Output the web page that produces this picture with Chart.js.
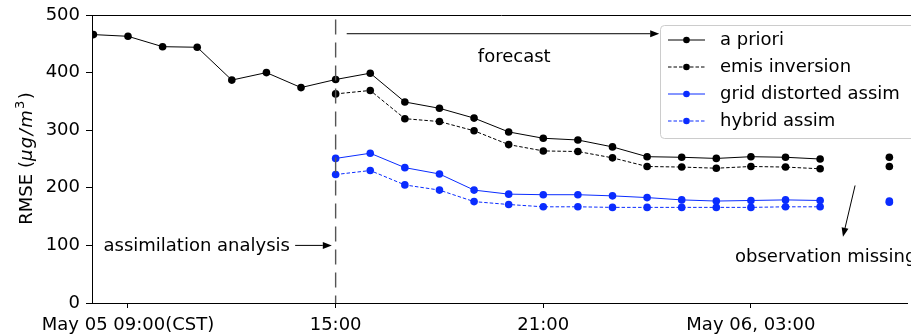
<!DOCTYPE html>
<html>
<head>
<meta charset="utf-8">
<script src="https://cdn.jsdelivr.net/npm/chart.js@4"></script>
<style>
  html, body { margin: 0; padding: 0; background: #fff; }
  #wrap { width: 911px; height: 335px; position: relative; }
</style>
</head>
<body>
<div id="wrap"><canvas id="c"></canvas></div>
<script>
// hours since May 05 08:00 (CST)
const hours = [0, 1, 2, 3, 4, 5, 6, 7, 8, 9, 10, 11, 12, 13, 14, 15, 16, 17, 18, 19, 20, 21, 22, 23];

const aPriori = [466, 463, 445, 444, 387, 400, 374, 388, 399, 349, 338, 321, 297, 286, 283, 271, 254, 253, 251, 254, 253, 250, null, 253];
const emisInversion = [null, null, null, null, null, null, null, 363, 369, 320, 315, 299, 275, 264, 263, 252, 237, 236, 234, 237, 236, 233, null, 237];
const gridAssim = [null, null, null, null, null, null, null, 251, 260, 235, 224, 196, 189, 188, 188, 186, 183, 179, 177, 178, 179, 178, null, 177];
const hybridAssim = [null, null, null, null, null, null, null, 223, 230, 205, 196, 176, 171, 167, 167, 166, 166, 166, 166, 166, 167, 167, null, 175];

const tickHours = [1, 7, 13, 19];
const tickLabels = ['May 05 09:00(CST)', '15:00', '21:00', 'May 06, 03:00'];

const FONT = 'DejaVu Sans';
const BLUE = '#0a2cff';

function toPoints(vals) {
    return hours.map((h, i) => ({ x: h, y: vals[i] }));
}

function series(label, vals, color, dashed) {
    return {
        label: label,
        data: toPoints(vals),
        borderColor: color,
        backgroundColor: color,
        borderWidth: 1,
        borderDash: dashed ? [3.5, 2] : [],
        pointRadius: 3.8,
        pointBorderWidth: 0,
        pointBackgroundColor: color,
        spanGaps: false,
        tension: 0
    };
}

function arrow(ctx, x1, y1, x2, y2) {
    const ang = Math.atan2(y2 - y1, x2 - x1);
    const len = 9, half = 3.5;
    ctx.beginPath();
    ctx.moveTo(x1, y1);
    ctx.lineTo(x2 - Math.cos(ang) * len, y2 - Math.sin(ang) * len);
    ctx.stroke();
    ctx.beginPath();
    ctx.moveTo(x2, y2);
    ctx.lineTo(x2 - Math.cos(ang) * len - Math.sin(ang) * half, y2 - Math.sin(ang) * len + Math.cos(ang) * half);
    ctx.lineTo(x2 - Math.cos(ang) * len + Math.sin(ang) * half, y2 - Math.sin(ang) * len - Math.cos(ang) * half);
    ctx.closePath();
    ctx.fill();
}

// frame, annotations, legend and y title drawn on top
const decorations = {
    id: 'decorations',
    afterDatasetsDraw(chart) {
        const ctx = chart.ctx;
        const xs = chart.scales.x, ys = chart.scales.y;
        const a = chart.chartArea;
        ctx.save();

        // top spine
        ctx.strokeStyle = '#000';
        ctx.lineWidth = 1;
        ctx.beginPath();
        ctx.moveTo(a.left, a.top + 0.5);
        ctx.lineTo(chart.width, a.top + 0.5);
        ctx.stroke();

        // analysis time marker
        ctx.strokeStyle = '#555';
        ctx.lineWidth = 1.4;
        ctx.setLineDash([15, 8]);
        ctx.beginPath();
        ctx.moveTo(xs.getPixelForValue(7), ys.getPixelForValue(492));
        ctx.lineTo(xs.getPixelForValue(7), ys.getPixelForValue(0));
        ctx.stroke();
        ctx.setLineDash([]);

        ctx.fillStyle = '#000';
        ctx.strokeStyle = '#000';
        ctx.lineWidth = 1;
        ctx.font = '18px "' + FONT + '"';
        ctx.textBaseline = 'middle';

        // forecast
        arrow(ctx, xs.getPixelForValue(7.32), ys.getPixelForValue(467.5), xs.getPixelForValue(16.35), ys.getPixelForValue(467.5));
        ctx.textAlign = 'center';
        ctx.fillText('forecast', xs.getPixelForValue(12.16), ys.getPixelForValue(427));

        // assimilation analysis
        ctx.textAlign = 'right';
        ctx.fillText('assimilation analysis', xs.getPixelForValue(5.68), ys.getPixelForValue(99));
        arrow(ctx, xs.getPixelForValue(5.83), ys.getPixelForValue(100), xs.getPixelForValue(6.89), ys.getPixelForValue(100));

        // observation missing
        ctx.textAlign = 'left';
        ctx.fillText('observation missing', xs.getPixelForValue(18.54), ys.getPixelForValue(80));
        arrow(ctx, xs.getPixelForValue(22.01), ys.getPixelForValue(204), xs.getPixelForValue(21.66), ys.getPixelForValue(115));

        // legend
        const lx = 660, ly = 25, lw = 270, lh = 113;
        ctx.fillStyle = 'rgba(255,255,255,0.85)';
        ctx.strokeStyle = '#cccccc';
        ctx.beginPath();
        ctx.roundRect(lx + 0.5, ly + 0.5, lw, lh, 4);
        ctx.fill();
        ctx.stroke();
        chart.data.datasets.forEach((ds, i) => {
            const cy = 40 + i * 27;
            ctx.strokeStyle = ds.borderColor;
            ctx.lineWidth = 1;
            ctx.setLineDash(ds.borderDash);
            ctx.beginPath();
            ctx.moveTo(668, cy);
            ctx.lineTo(705, cy);
            ctx.stroke();
            ctx.setLineDash([]);
            ctx.fillStyle = ds.borderColor;
            ctx.beginPath();
            ctx.arc(686.5, cy, 3.3, 0, Math.PI * 2);
            ctx.fill();
            ctx.fillStyle = '#000';
            ctx.textAlign = 'left';
            ctx.fillText(ds.label, 720, cy);
        });

        // y axis title with italic unit (mathtext-like spacing)
        ctx.translate(31.5, 158.5);
        ctx.rotate(-Math.PI / 2);
        const parts = [
            ['RMSE (', 'normal 18px', 0, 0],
            ['\u03bc', 'italic 18px', 0, 1.5],
            ['g', 'italic 18px', 0, 1.5],
            ['/', 'italic 18px', 0, 1.5],
            ['m', 'italic 18px', 0, 1],
            ['3', 'normal 13px', -8, 1.5],
            [')', 'normal 18px', 0, 0]
        ];
        let total = 0;
        parts.forEach(p => { ctx.font = p[1] + ' "' + FONT + '"'; total += ctx.measureText(p[0]).width + p[3]; });
        let px = -total / 2;
        ctx.textAlign = 'left';
        ctx.textBaseline = 'alphabetic';
        ctx.fillStyle = '#000';
        parts.forEach(p => {
            ctx.font = p[1] + ' "' + FONT + '"';
            ctx.fillText(p[0], px, p[2]);
            px += ctx.measureText(p[0]).width + p[3];
        });

        ctx.restore();
    }
};

new Chart(document.getElementById('c'), {
    type: 'line',
    data: {
        datasets: [
            series('a priori', aPriori, '#000000', false),
            series('emis inversion', emisInversion, '#000000', true),
            series('grid distorted assim', gridAssim, BLUE, false),
            series('hybrid assim', hybridAssim, BLUE, true)
        ]
    },
    options: {
        responsive: true,
        maintainAspectRatio: false,
        animation: false,
        layout: { padding: { top: 15, right: 0, left: 0, bottom: 0 } },
        plugins: {
            legend: { display: false },
            tooltip: { enabled: false }
        },
        scales: {
            x: {
                type: 'linear',
                min: -0.04,
                max: 23.51,
                afterBuildTicks: (scale) => {
                    scale.ticks = tickHours.map(v => ({ value: v }));
                },
                afterFit: (scale) => { scale.height = 32; },
                border: { display: true, color: '#000', width: 1 },
                grid: { drawOnChartArea: false, drawTicks: true, tickLength: 5, color: '#000' },
                ticks: {
                    autoSkip: false,
                    maxRotation: 0,
                    padding: 7,
                    color: '#000',
                    font: { family: FONT, size: 18 },
                    callback: (v) => tickLabels[tickHours.indexOf(v)] ?? ''
                }
            },
            y: {
                min: 0,
                max: 500,
                afterFit: (scale) => { scale.width = 92; },
                border: { display: true, color: '#000', width: 1 },
                grid: { drawOnChartArea: false, drawTicks: true, tickLength: 6, color: '#000' },
                ticks: {
                    stepSize: 100,
                    padding: 6,
                    color: '#000',
                    font: { family: FONT, size: 18, lineHeight: 1 }
                }
            }
        }
    },
    plugins: [decorations]
});
</script>
</body>
</html>
